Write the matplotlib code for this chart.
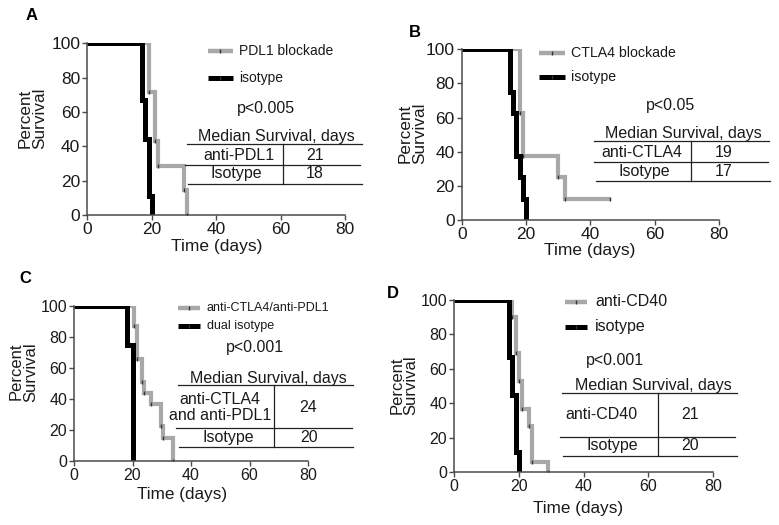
import matplotlib
matplotlib.use("Agg")
import matplotlib.pyplot as plt

plt.rcParams["font.family"] = ["Liberation Sans", "DejaVu Sans"]

W, H = 779, 525
GRAY = "#a8a8a8"
AXCOL = "#4a4a4a"

# ---------------- data (Kaplan-Meier steps: time in days, % survival) ----------------
a_treat_t = [0, 19, 21, 22, 30, 31]
a_treat_s = [100, 71.4, 42.9, 28.6, 14.3, 0]
a_iso_t = [0, 17, 18, 19, 20]
a_iso_s = [100, 66.7, 44.4, 11.1, 0]

b_treat_t = [0, 18, 19, 30, 32, 46]
b_treat_s = [100, 62.5, 37.5, 25, 12.5, 12.5]
b_iso_t = [0, 15, 16, 17, 18, 19, 20]
b_iso_s = [100, 75, 62.5, 37.5, 25, 12.5, 0]

c_treat_t = [0, 20.6, 21.4, 23.3, 24.1, 26.2, 29.6, 30.4, 34]
c_treat_s = [100, 86.7, 65.5, 50.6, 43.6, 37, 22.5, 15, 0]
c_iso_t = [0, 18, 20]
c_iso_s = [100, 75, 0]

d_treat_t = [0, 18, 19, 20, 21, 23, 24, 29]
d_treat_s = [100, 90, 69, 53, 37, 27, 6, 0]
d_iso_t = [0, 17, 18, 19, 20]
d_iso_s = [100, 67, 45, 12, 0]

legend_a = ["PDL1 blockade", "isotype"]
legend_b = ["CTLA4 blockade", "isotype"]
legend_c = ["anti-CTLA4/anti-PDL1", "dual isotype"]
legend_d = ["anti-CD40", "isotype"]

pvals = ["p<0.005", "p<0.05", "p<0.001", "p<0.001"]
row_names_a = ["anti-PDL1", "Isotype"]
row_names_b = ["anti-CTLA4", "Isotype"]
row_names_c = ["anti-CTLA4\nand anti-PDL1", "Isotype"]
row_names_d = ["anti-CD40", "Isotype"]
medians_a = ["21", "18"]
medians_b = ["19", "17"]
medians_c = ["24", "20"]
medians_d = ["21", "20"]

xticks = [0, 20, 40, 60, 80]
yticks = [0, 20, 40, 60, 80, 100]

fig = plt.figure(figsize=(W / 100, H / 100), dpi=100)


def ftext(x, y, s, **kw):
    # figure text at pixel position (from top-left)
    fig.text(x / W, 1 - y / H, s, **kw)


def make_axes(left, top, right, bottom, fs):
    ax = fig.add_axes([left / W, 1 - bottom / H, (right - left) / W, (bottom - top) / H])
    ax.set_xlim(0, 80)
    ax.set_ylim(0, 100)
    for side in ["top", "right"]:
        ax.spines[side].set_visible(False)
    for side in ["left", "bottom"]:
        ax.spines[side].set_color(AXCOL)
        ax.spines[side].set_linewidth(1.1)
    ax.set_xticks(xticks)
    ax.set_yticks(yticks)
    ax.tick_params(direction="out", length=3.5, width=1.0, color=AXCOL,
                   labelsize=fs, pad=1.5, labelcolor="#1a1a1a")
    ax.patch.set_alpha(0)
    return ax


def km(ax, t, s, color, lw, ticks):
    ax.step(t, s, where="post", color=color, lw=lw, solid_joinstyle="miter",
            solid_capstyle="butt")
    if ticks:
        ax.plot(t[1:], s[1:], ls="none", marker="|", ms=3.5, mew=1.0, color="#333333")


def legend(ax, x0, x1, x_txt, ys, labels, fs):
    for y, lab, col in zip(ys, labels, [GRAY, "black"]):
        ax.plot([x0, x1], [y, y], color=col, lw=3.2 if col == GRAY else 3.6,
                clip_on=False, solid_capstyle="butt")
        ax.plot([(x0 + x1) / 2], [y], ls="none", marker="|", ms=3.5, mew=1.0,
                color="#333333", clip_on=False)
        ax.text(x_txt, y, lab, fontsize=fs, va="center", ha="left", color="#1a1a1a")


def table(ax, head_xy, lines, vx, row_xy, rows, meds, med_x, fs):
    ax.text(head_xy[0], head_xy[1], "Median Survival, days", fontsize=fs,
            ha="center", va="center", color="#1a1a1a")
    for (xa, xb, y) in lines:
        ax.plot([xa, xb], [y, y], color="#222222", lw=0.9, clip_on=False)
    ax.plot([vx, vx], [lines[0][2], lines[2][2]], color="#222222", lw=0.9, clip_on=False)
    for (x, y), name, med in zip(row_xy, rows, meds):
        ax.text(x, y, name, fontsize=fs, ha="center", va="center", color="#1a1a1a",
                linespacing=1.1)
        ax.text(med_x, y, med, fontsize=fs, ha="center", va="center", color="#1a1a1a")


# ---------------- panel A ----------------
ax = make_axes(87.3, 43.3, 345, 215, 12.5)
km(ax, a_treat_t, a_treat_s, GRAY, 3.0, True)
km(ax, a_iso_t, a_iso_s, "black", 3.6, False)
legend(ax, 37.5, 45.2, 47.2, [95.7, 79.6], legend_a, 10)
ax.text(55.4, 62.1, pvals[0], fontsize=11.5, ha="center", va="center", color="#1a1a1a")
table(ax, (58.8, 45.6), [(30.9, 85.2, 41.4), (30.3, 84.7, 29.1), (31.2, 85.2, 18.1)],
      60.8, [(47.1, 34.5), (46.4, 23.9)], row_names_a, medians_a, 70.7, 11.5)
ftext(32.5, 118, "Percent\nSurvival", rotation=90, ha="center", va="center",
      fontsize=12.3, linespacing=0.95, color="#1a1a1a")
ftext(216.7, 246.7, "Time (days)", ha="center", va="center", fontsize=12.5, color="#1a1a1a")
ftext(31.7, 15, "A", ha="center", va="center", fontsize=12, fontweight="bold")

# ---------------- panel B ----------------
ax = make_axes(461.7, 49.3, 719, 220, 12.5)
km(ax, b_treat_t, b_treat_s, GRAY, 3.0, True)
km(ax, b_iso_t, b_iso_s, "black", 3.6, False)
legend(ax, 24.1, 32.1, 34.0, [97.6, 83.6], legend_b, 10.2)
ax.text(64.8, 66.8, pvals[1], fontsize=11.5, ha="center", va="center", color="#1a1a1a")
table(ax, (68.9, 50.8), [(41.1, 95.6, 46.5), (41.1, 95.3, 33.8), (41.7, 95.9, 22.8)],
      71.3, [(56.0, 39.4), (56.8, 28.7)], row_names_b, medians_b, 81.4, 11.5)
ftext(412.3, 133.3, "Percent\nSurvival", rotation=90, ha="center", va="center",
      fontsize=12.3, linespacing=0.95, color="#1a1a1a")
ftext(590, 250, "Time (days)", ha="center", va="center", fontsize=12.5, color="#1a1a1a")
ftext(415, 32.3, "B", ha="center", va="center", fontsize=12, fontweight="bold")

# ---------------- panel C ----------------
ax = make_axes(74, 305.7, 308, 461, 11.5)
km(ax, c_treat_t, c_treat_s, GRAY, 3.0, True)
km(ax, c_iso_t, c_iso_s, "black", 3.6, False)
legend(ax, 35.4, 43.1, 45.4, [98.3, 86.9], legend_c, 9)
ax.text(61.9, 73.2, pvals[2], fontsize=11.5, ha="center", va="center", color="#1a1a1a")
table(ax, (66.4, 53.2), [(35.4, 95.3, 48.9), (34.9, 94.9, 21.0), (35.9, 95.3, 9.0)],
      68.4, [(49.9, 34.6), (52.8, 15.3)], row_names_c, medians_c, 80.2, 11.5)
ftext(23.3, 371.7, "Percent\nSurvival", rotation=90, ha="center", va="center",
      fontsize=12, linespacing=0.95, color="#1a1a1a")
ftext(181.7, 495, "Time (days)", ha="center", va="center", fontsize=12.3, color="#1a1a1a")
ftext(25, 278.3, "C", ha="center", va="center", fontsize=12, fontweight="bold")

# ---------------- panel D ----------------
ax = make_axes(454.3, 300, 712.7, 472.3, 11.5)
km(ax, d_treat_t, d_treat_s, GRAY, 3.0, True)
km(ax, d_iso_t, d_iso_s, "black", 3.6, False)
legend(ax, 34.3, 41.2, 43.6, [99.0, 84.5], legend_d, 11.5)
ax.text(49.8, 64.8, pvals[3], fontsize=11.5, ha="center", va="center", color="#1a1a1a")
table(ax, (61.6, 50.3), [(33.2, 87.4, 45.8), (32.8, 87.0, 20.3), (33.7, 87.6, 9.5)],
      63.2, [(45.6, 33.3), (48.9, 15.8)], row_names_d, medians_d, 73.0, 11.5)
ftext(404, 385, "Percent\nSurvival", rotation=90, ha="center", va="center",
      fontsize=12, linespacing=0.95, color="#1a1a1a")
ftext(578.3, 508.3, "Time (days)", ha="center", va="center", fontsize=12.3, color="#1a1a1a")
ftext(393.3, 293.3, "D", ha="center", va="center", fontsize=12, fontweight="bold")

fig.savefig("out.png", dpi=100)
